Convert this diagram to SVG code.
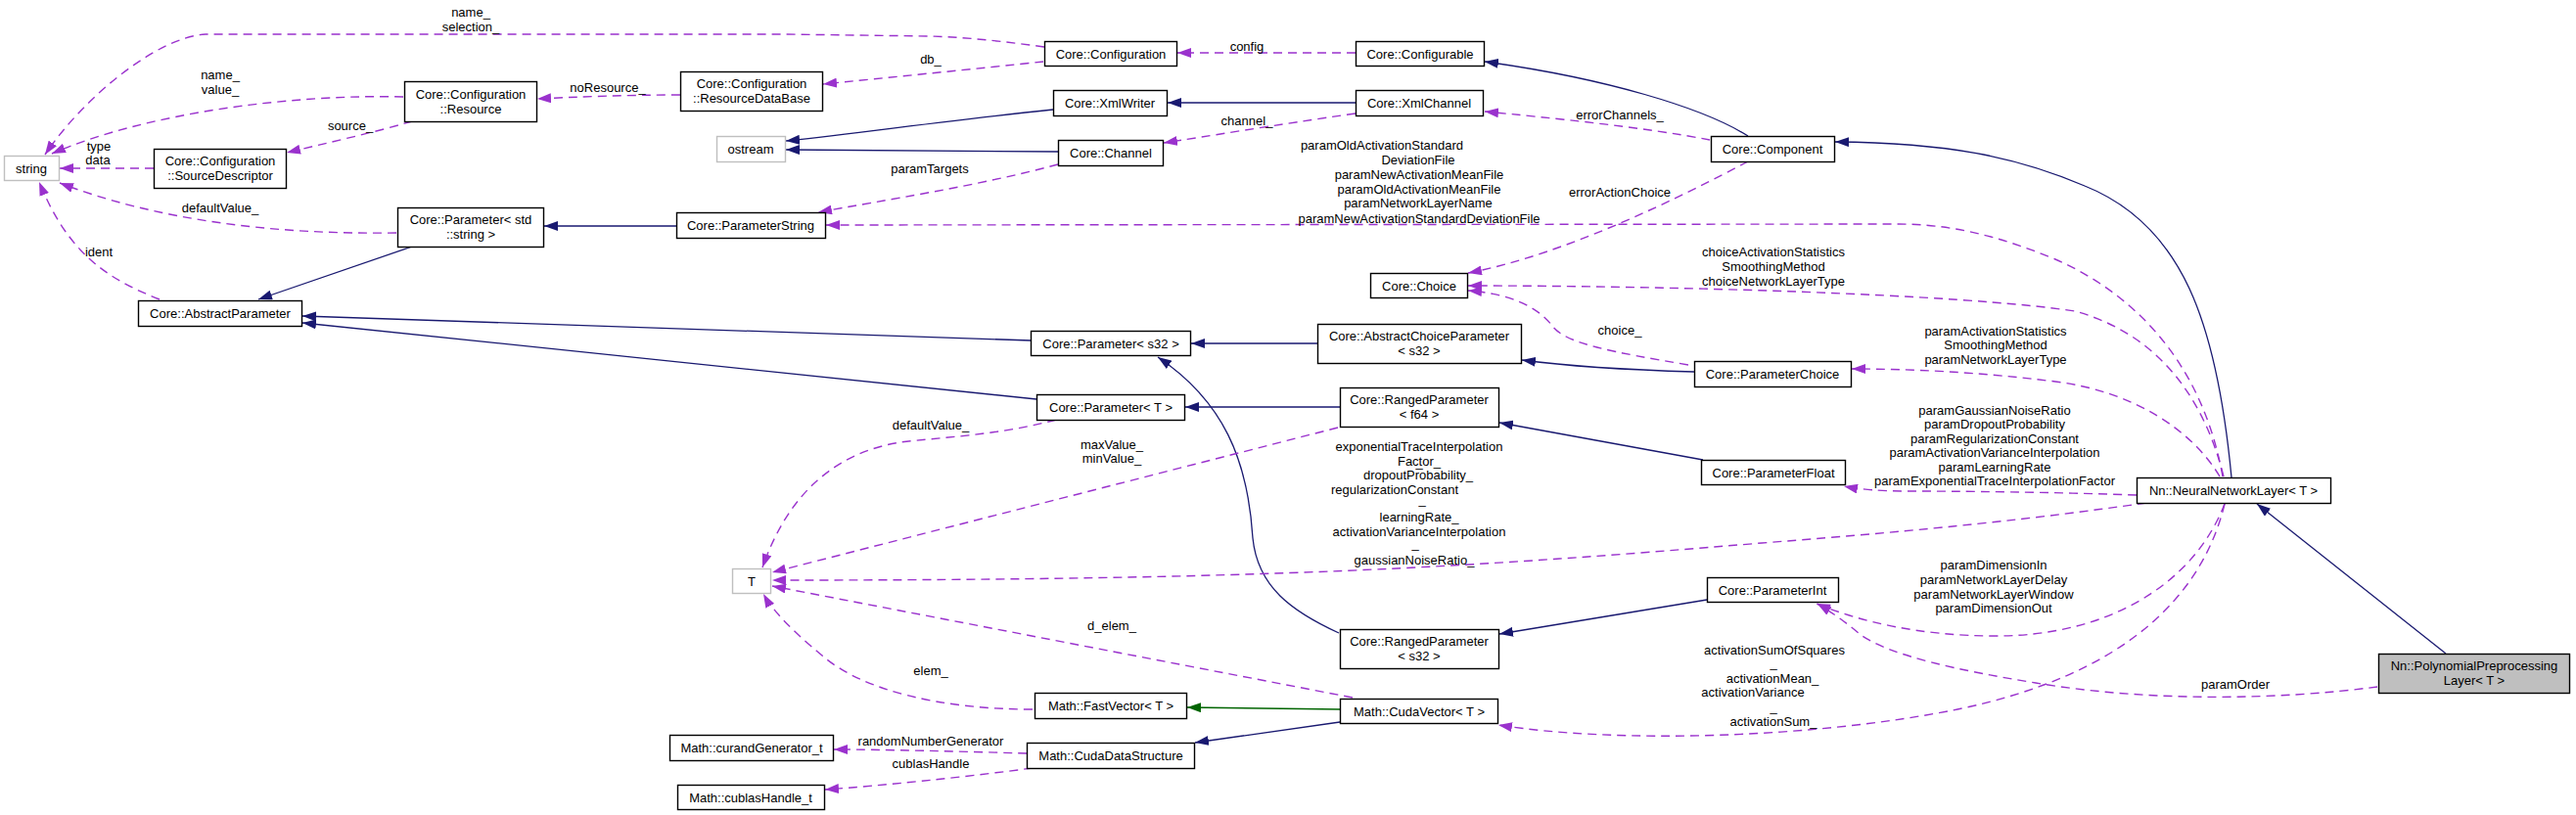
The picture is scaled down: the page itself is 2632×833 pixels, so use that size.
<svg xmlns="http://www.w3.org/2000/svg" width="2632" height="833" viewBox="0 0 2632 833">
<style>
text{font-family:"Liberation Sans",Arial,Helvetica,sans-serif;font-size:13px;fill:#000;text-anchor:middle}
.n rect{fill:#fff;stroke:#000;stroke-width:1.4}
.x rect{fill:#fff;stroke:#bfbfbf;stroke-width:1.4}
.h rect{fill:#bfbfbf;stroke:#000;stroke-width:1.4}
.d{fill:none;stroke:#9a32cd;stroke-width:1.4;stroke-dasharray:9,6;marker-end:url(#ap)}
.i{fill:none;stroke:#191970;stroke-width:1.3;marker-end:url(#an)}
.p{fill:none;stroke:#006400;stroke-width:1.3;marker-end:url(#ag)}
</style>
<defs>
<marker id="ap" markerUnits="userSpaceOnUse" markerWidth="14" markerHeight="10" refX="14" refY="5" orient="auto"><path d="M0,0 L14,5 L0,10 z" fill="#9a32cd"/></marker>
<marker id="an" markerUnits="userSpaceOnUse" markerWidth="14" markerHeight="10" refX="14" refY="5" orient="auto"><path d="M0,0 L14,5 L0,10 z" fill="#191970"/></marker>
<marker id="ag" markerUnits="userSpaceOnUse" markerWidth="14" markerHeight="10" refX="14" refY="5" orient="auto"><path d="M0,0 L14,5 L0,10 z" fill="#006400"/></marker>
</defs>
<rect width="2632" height="833" fill="#fff"/>
<g id="connectors">
<path class="d" d="M1067,48 C1030,43 990,38 950,37 L800,35 L210,35 C160,38 85,100 46,158"/>
<path class="d" d="M412,99 C300,96 150,115 53,157"/>
<path class="d" d="M157,172 L61,172"/>
<path class="d" d="M421,124 C380,136 330,147 293,156"/>
<path class="d" d="M405,238 C280,240 160,225 61,187"/>
<path class="d" d="M163,306 C110,285 70,260 40,186"/>
<path class="d" d="M695,97 C640,97 590,99 549,101"/>
<path class="d" d="M1066,63 C1000,70 900,80 841,86"/>
<path class="d" d="M1385,54 L1203,54"/>
<path class="i" d="M1076,112 C950,125 850,140 803,144"/>
<path class="i" d="M1081,155 L803,153"/>
<path class="i" d="M1385,105 L1193,105"/>
<path class="d" d="M1385,116 C1300,128 1230,140 1189,146"/>
<path class="d" d="M1081,168 C1000,190 900,205 836,217"/>
<path class="i" d="M691,231 L556,231"/>
<path class="i" d="M421,252 L264,306"/>
<path class="i" d="M1053,348 L309,323"/>
<path class="i" d="M1059,408 L309,330"/>
<path class="i" d="M1786,139 C1740,110 1640,80 1517,63"/>
<path class="d" d="M1747,143 C1680,130 1580,120 1517,114"/>
<path class="i" d="M2280,488 C2265,330 2230,230 2130,190 C2060,160 1990,146 1875,145"/>
<path class="d" d="M2271,487 C2250,370 2180,300 2100,265 C2040,240 1990,229 1940,229 L844,230"/>
<path class="d" d="M1786,165 C1720,200 1600,260 1500,279"/>
<path class="d" d="M2272,487 C2250,400 2200,340 2120,318 C2000,300 1700,292 1500,292"/>
<path class="d" d="M1725,373 C1650,360 1600,352 1586,333 C1570,312 1540,300 1500,297"/>
<path class="i" d="M1731,380 C1660,378 1600,374 1555,368"/>
<path class="i" d="M1346,351 L1217,351"/>
<path class="d" d="M2268,487 C2240,440 2180,400 2100,390 C2020,380 1950,377 1892,377"/>
<path class="i" d="M1740,470 L1532,432"/>
<path class="i" d="M1369,416 L1211,416"/>
<path class="d" d="M2183,506 C2100,503 2000,502 1950,502 C1920,502 1900,500 1884,497"/>
<path class="i" d="M1368,647 C1320,625 1285,600 1280,550 C1275,470 1250,410 1183,365"/>
<path class="i" d="M1744,613 L1532,648"/>
<path class="d" d="M2273,515 C2240,600 2150,650 2040,650 C1960,650 1900,635 1856,617"/>
<path class="d" d="M2429,702 C2330,715 2200,718 2080,698 C2000,685 1930,670 1900,648 C1885,635 1870,625 1857,617"/>
<path class="d" d="M2273,515 C2250,610 2170,690 2000,725 C1850,755 1650,760 1531,741"/>
<path class="i" d="M2499,668 L2306,515"/>
<path class="d" d="M2193,514 C2080,530 1980,541 1800,555 C1500,580 1300,593 789,593"/>
<path class="d" d="M1367,437 L789,585"/>
<path class="d" d="M1079,429 C1020,445 960,447 920,452 C840,465 800,520 779,580"/>
<path class="d" d="M1382,713 L789,599"/>
<path class="d" d="M1055,725 C960,725 880,705 840,670 C810,645 790,625 780,607"/>
<path class="p" d="M1369,725 L1213,723"/>
<path class="i" d="M1369,738 L1221,759"/>
<path class="d" d="M1049,770 C980,768 900,766 852,766"/>
<path class="d" d="M1055,785 C980,795 900,803 843,807"/>
</g>
<g id="labels">
<text x="481" y="16.5">name_</text><text x="481" y="31.5">selection_</text>
<text x="225" y="80.5">name_</text><text x="225" y="95.5">value_</text>
<text x="621" y="93.5">noResource_</text>
<text x="358" y="132.5">source_</text>
<text x="101" y="153.5">type</text><text x="100" y="168">data</text>
<text x="225" y="216.5">defaultValue_</text>
<text x="101" y="261.5">ident</text>
<text x="951" y="64.5">db_</text>
<text x="1274" y="51.5">config</text>
<text x="1274" y="127.5">channel_</text>
<text x="950" y="176.5">paramTargets</text>
<text x="1655" y="121.5">errorChannels_</text>
<text x="1412" y="152.5">paramOldActivationStandard</text>
<text x="1449" y="167.5">DeviationFile</text>
<text x="1450" y="182.5">paramNewActivationMeanFile</text>
<text x="1450" y="197.5">paramOldActivationMeanFile</text>
<text x="1449" y="211.5">paramNetworkLayerName</text>
<text x="1450" y="227.5">paramNewActivationStandardDeviationFile</text>
<text x="1655" y="200.5">errorActionChoice</text>
<text x="1812" y="261.5">choiceActivationStatistics</text>
<text x="1812" y="276.5">SmoothingMethod</text>
<text x="1812" y="291.5">choiceNetworkLayerType</text>
<text x="1655" y="341.5">choice_</text>
<text x="2039" y="342.5">paramActivationStatistics</text>
<text x="2039" y="356.5">SmoothingMethod</text>
<text x="2039" y="371.5">paramNetworkLayerType</text>
<text x="2038" y="423.5">paramGaussianNoiseRatio</text>
<text x="2038" y="437.5">paramDropoutProbability</text>
<text x="2038" y="452.5">paramRegularizationConstant</text>
<text x="2038" y="466.5">paramActivationVarianceInterpolation</text>
<text x="2038" y="481.5">paramLearningRate</text>
<text x="2038" y="495.5">paramExponentialTraceInterpolationFactor</text>
<text x="951" y="438.5">defaultValue_</text>
<text x="1136" y="458.5">maxValue_</text><text x="1136" y="472.5">minValue_</text>
<text x="1450" y="460.5">exponentialTraceInterpolation</text>
<text x="1450" y="475.5">Factor_</text>
<text x="1450" y="477">_</text>
<text x="1449" y="489.5">dropoutProbability_</text>
<text x="1425" y="504.5">regularizationConstant</text>
<text x="1453" y="515">_</text>
<text x="1450" y="532.5">learningRate_</text>
<text x="1450" y="547.5">activationVarianceInterpolation</text>
<text x="1446" y="560">_</text>
<text x="1445" y="576.5">gaussianNoiseRatio_</text>
<text x="2037" y="581.5">paramDimensionIn</text>
<text x="2037" y="596.5">paramNetworkLayerDelay</text>
<text x="2037" y="611.5">paramNetworkLayerWindow</text>
<text x="2037" y="625.5">paramDimensionOut</text>
<text x="1136" y="643.5">d_elem_</text>
<text x="1813" y="668.5">activationSumOfSquares</text>
<text x="1812" y="682">_</text>
<text x="1811" y="697.5">activationMean_</text>
<text x="1791" y="711.5">activationVariance</text>
<text x="1812" y="727">_</text>
<text x="1812" y="741.5">activationSum_</text>
<text x="951" y="689.5">elem_</text>
<text x="2284" y="703.5">paramOrder</text>
<text x="951" y="761.5">randomNumberGenerator</text>
<text x="951" y="784.5">cublasHandle</text>
</g>
<g id="n-string" class="x"><rect x="4.5" y="159.5" width="56" height="25"/><text x="32" y="176.5">string</text></g>
<g id="n-resource" class="n"><rect x="413.5" y="83.5" width="135" height="41"/><text x="481" y="100.5">Core::Configuration</text><text x="481" y="115.5">::Resource</text></g>
<g id="n-sourcedescriptor" class="n"><rect x="157.5" y="152.5" width="135" height="40"/><text x="225" y="169">Core::Configuration</text><text x="225" y="184">::SourceDescriptor</text></g>
<g id="n-paramstdstring" class="n"><rect x="406.5" y="212.5" width="149" height="40"/><text x="481" y="229">Core::Parameter&lt; std</text><text x="481" y="244">::string &gt;</text></g>
<g id="n-abstractparameter" class="n"><rect x="141.5" y="307.5" width="167" height="26"/><text x="225" y="325">Core::AbstractParameter</text></g>
<g id="n-configuration" class="n"><rect x="1067.5" y="42.5" width="135" height="25"/><text x="1135" y="59.5">Core::Configuration</text></g>
<g id="n-resourcedatabase" class="n"><rect x="695.5" y="73.5" width="145" height="40"/><text x="768" y="90">Core::Configuration</text><text x="768" y="105">::ResourceDataBase</text></g>
<g id="n-xmlwriter" class="n"><rect x="1076.5" y="92.5" width="116" height="26"/><text x="1134" y="110">Core::XmlWriter</text></g>
<g id="n-ostream" class="x"><rect x="732.5" y="139.5" width="70" height="26"/><text x="767" y="157">ostream</text></g>
<g id="n-channel" class="n"><rect x="1081.5" y="143.5" width="107" height="26"/><text x="1135" y="161">Core::Channel</text></g>
<g id="n-parameterstring" class="n"><rect x="691.5" y="217.5" width="152" height="26"/><text x="767" y="235">Core::ParameterString</text></g>
<g id="n-params32" class="n"><rect x="1053.5" y="338.5" width="163" height="25"/><text x="1135" y="355.5">Core::Parameter&lt; s32 &gt;</text></g>
<g id="n-paramT" class="n"><rect x="1059.5" y="403.5" width="151" height="26"/><text x="1135" y="421">Core::Parameter&lt; T &gt;</text></g>
<g id="n-configurable" class="n"><rect x="1385.5" y="42.5" width="131" height="25"/><text x="1451" y="59.5">Core::Configurable</text></g>
<g id="n-xmlchannel" class="n"><rect x="1385.5" y="92.5" width="130" height="26"/><text x="1450" y="110">Core::XmlChannel</text></g>
<g id="n-component" class="n"><rect x="1748.5" y="139.5" width="126" height="26"/><text x="1811" y="157">Core::Component</text></g>
<g id="n-choice" class="n"><rect x="1400.5" y="279.5" width="99" height="25"/><text x="1450" y="296.5">Core::Choice</text></g>
<g id="n-abstractchoiceparameter" class="n"><rect x="1346.5" y="331.5" width="208" height="40"/><text x="1450" y="348">Core::AbstractChoiceParameter</text><text x="1450" y="363">&lt; s32 &gt;</text></g>
<g id="n-parameterchoice" class="n"><rect x="1731.5" y="369.5" width="160" height="26"/><text x="1811" y="387">Core::ParameterChoice</text></g>
<g id="n-rangedf64" class="n"><rect x="1369.5" y="396.5" width="162" height="40"/><text x="1450" y="413">Core::RangedParameter</text><text x="1450" y="428">&lt; f64 &gt;</text></g>
<g id="n-parameterfloat" class="n"><rect x="1738.5" y="470.5" width="147" height="25"/><text x="1812" y="487.5">Core::ParameterFloat</text></g>
<g id="n-parameterint" class="n"><rect x="1744.5" y="590.5" width="134" height="25"/><text x="1811" y="607.5">Core::ParameterInt</text></g>
<g id="n-rangeds32" class="n"><rect x="1369.5" y="643.5" width="162" height="40"/><text x="1450" y="660">Core::RangedParameter</text><text x="1450" y="675">&lt; s32 &gt;</text></g>
<g id="n-cudavector" class="n"><rect x="1369.5" y="714.5" width="161" height="25"/><text x="1450" y="731.5">Math::CudaVector&lt; T &gt;</text></g>
<g id="n-nnlayer" class="n"><rect x="2183.5" y="488.5" width="198" height="26"/><text x="2282" y="506">Nn::NeuralNetworkLayer&lt; T &gt;</text></g>
<g id="n-polynomial" class="h"><rect x="2430.5" y="668.5" width="195" height="40"/><text x="2528" y="685">Nn::PolynomialPreprocessing</text><text x="2528" y="700">Layer&lt; T &gt;</text></g>
<g id="n-T" class="x"><rect x="748.5" y="581.5" width="39" height="25"/><text x="768" y="598.5">T</text></g>
<g id="n-fastvector" class="n"><rect x="1057.5" y="708.5" width="155" height="26"/><text x="1135" y="726">Math::FastVector&lt; T &gt;</text></g>
<g id="n-curand" class="n"><rect x="684.5" y="751.5" width="167" height="26"/><text x="768" y="769">Math::curandGenerator_t</text></g>
<g id="n-cudadatastructure" class="n"><rect x="1049.5" y="759.5" width="171" height="26"/><text x="1135" y="777">Math::CudaDataStructure</text></g>
<g id="n-cublas" class="n"><rect x="692.5" y="802.5" width="150" height="25"/><text x="767" y="819.5">Math::cublasHandle_t</text></g>
</svg>
